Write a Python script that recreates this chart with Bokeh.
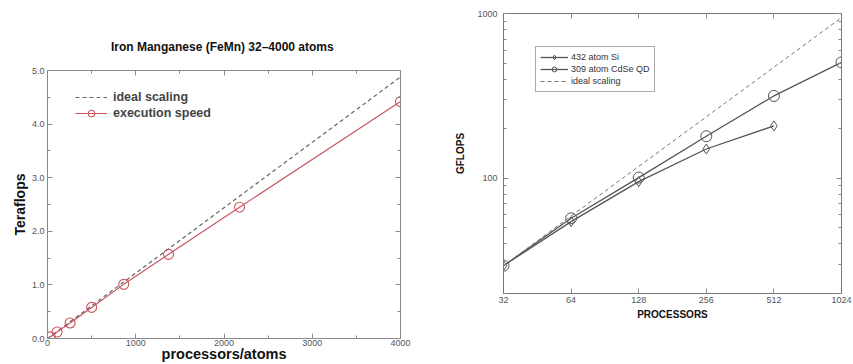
from bokeh.plotting import figure
from bokeh.layouts import row, column
from bokeh.models import (LinearAxis, LogAxis, FixedTicker, NumeralTickFormatter,
                          BasicTickFormatter, Range1d, Legend, LegendItem)
from bokeh.embed import file_html
from bokeh.resources import INLINE

FONT = "Liberation Sans"

# ---------------- Left chart data (FeMn) ----------------
femn_title = "Iron Manganese (FeMn)  32\u20134000 atoms"
femn_atoms = [32, 108, 256, 500, 864, 1372, 2176, 4000]
femn_tflops = [0.03, 0.12, 0.29, 0.58, 1.01, 1.57, 2.45, 4.42]
femn_ideal_atoms = [0, 4000]
femn_ideal_tflops = [0.0, 4.88]
femn_x_ticks = [0, 1000, 2000, 3000, 4000]
femn_x_minor = [500, 1500, 2500, 3500]
femn_y_ticks = [0, 1, 2, 3, 4, 5]
femn_y_minor = [0.5, 1.5, 2.5, 3.5, 4.5]

# ---------------- Right chart data (GFLOPS) ----------------
procs = [32, 64, 128, 256, 512, 1024]
si_procs = [32, 64, 128, 256, 512]
si_gflops = [29.5, 54.6, 95.4, 150.6, 208]
cdse_gflops = [29.5, 57.2, 101, 180, 316, 505]
ideal_procs = [32, 1024]
ideal_gflops = [29.5, 944]
gf_y_ticks = [100, 1000]
gf_y_minor = [20, 30, 40, 50, 60, 70, 80, 90, 200, 300, 400, 500, 600, 700, 800, 900]

AX_COL = "#8a8a8a"
RED = "#c8555f"


def style_axis(ax, ticks, labels=True, size="9px"):
    ax.axis_line_color = AX_COL
    ax.major_tick_line_color = AX_COL
    ax.minor_tick_line_color = AX_COL
    ax.major_tick_in = 5
    ax.major_tick_out = 0
    ax.minor_tick_in = 3
    ax.minor_tick_out = 0
    ax.major_label_text_font = FONT
    ax.major_label_text_color = "#555555"
    ax.major_label_text_font_size = size
    ax.axis_label_text_font = FONT
    ax.axis_label_text_font_style = "bold"
    ax.axis_label_text_color = "#111111"
    if labels:
        ax.major_label_standoff = 3
    else:
        ax.major_label_overrides = {t: "" for t in ticks}
        ax.major_label_standoff = 0


# ---------------- Left figure ----------------
p1 = figure(width=438, height=364, x_range=Range1d(0, 4000), y_range=Range1d(0, 5),
            output_backend="svg", toolbar_location=None, title=None,
            x_axis_location=None, y_axis_location=None,
            min_border_left=47, min_border_right=38, min_border_top=70, min_border_bottom=26)
p1.grid.visible = False
p1.outline_line_color = AX_COL

for side in ["below", "above"]:
    ax = LinearAxis(ticker=FixedTicker(ticks=femn_x_ticks, minor_ticks=femn_x_minor),
                    formatter=BasicTickFormatter())
    style_axis(ax, femn_x_ticks, labels=(side == "below"))
    if side == "below":
        ax.axis_label = "processors/atoms"
        ax.axis_label_text_font_size = "14.5px"
        ax.axis_label_standoff = -3
        ax.major_label_standoff = 1
    else:
        # the chart title sits above the top frame edge
        ax.axis_label = femn_title
        ax.axis_label_text_font_size = "12px"
        ax.axis_label_standoff = 17
    p1.add_layout(ax, side)

for side in ["left", "right"]:
    ax = LinearAxis(ticker=FixedTicker(ticks=femn_y_ticks, minor_ticks=femn_y_minor),
                    formatter=NumeralTickFormatter(format="0.0"))
    style_axis(ax, femn_y_ticks, labels=(side == "left"))
    if side == "left":
        ax.axis_label = "Teraflops"
        ax.axis_label_text_font_size = "14px"
        ax.axis_label_standoff = 1
    p1.add_layout(ax, side)

r_ideal = p1.line(femn_ideal_atoms, femn_ideal_tflops, line_color="#666666",
                  line_width=1.2, line_dash="4 3")
r_exec = p1.line(femn_atoms, femn_tflops, line_color=RED, line_width=1.2)
r_exec_pts = p1.scatter(femn_atoms, femn_tflops, marker="circle", size=10,
                        fill_color=None, line_color=RED, line_width=1.1)

leg1 = Legend(items=[LegendItem(label="ideal scaling", renderers=[r_ideal]),
                     LegendItem(label="execution speed", renderers=[r_exec, r_exec_pts])],
              location=(28, 217), border_line_alpha=0, background_fill_alpha=0,
              label_text_font=FONT, label_text_font_style="bold", label_text_font_size="12.5px",
              glyph_width=32, glyph_height=16, label_height=16, spacing=0, padding=0,
              margin=0, label_standoff=6)
p1.add_layout(leg1, "center")

# ---------------- Right figure ----------------
p2 = figure(width=415, height=364, x_axis_type="log", y_axis_type="log",
            x_range=Range1d(32, 1024), y_range=Range1d(20, 1000),
            output_backend="svg", toolbar_location=None,
            x_axis_location=None, y_axis_location=None,
            min_border_left=65, min_border_right=12, min_border_top=13, min_border_bottom=71)
p2.grid.visible = False
p2.outline_line_color = "#777777"

for side in ["below", "above"]:
    ax = LogAxis(ticker=FixedTicker(ticks=procs, minor_ticks=[]),
                 formatter=BasicTickFormatter())
    style_axis(ax, procs, labels=(side == "below"))
    ax.axis_line_color = "#777777"
    if side == "below":
        ax.axis_label = "PROCESSORS"
        ax.axis_label_text_font_size = "10px"
        ax.axis_label_standoff = 3
    p2.add_layout(ax, side)

for side in ["left", "right"]:
    ax = LogAxis(ticker=FixedTicker(ticks=gf_y_ticks, minor_ticks=gf_y_minor),
                 formatter=BasicTickFormatter())
    style_axis(ax, gf_y_ticks, labels=(side == "left"))
    ax.axis_line_color = "#777777"
    if side == "left":
        ax.axis_label = "GFLOPS"
        ax.axis_label_text_font_size = "10px"
        ax.axis_label_standoff = 8
        ax.major_label_standoff = 6
    p2.add_layout(ax, side)

LINE = "#555555"
r_si = p2.line(si_procs, si_gflops, line_color=LINE, line_width=1.3)
r_si_pts = p2.scatter(si_procs, si_gflops, marker="diamond", size=10,
                      fill_color=None, line_color=LINE, line_width=1.0)
r_cd = p2.line(procs, cdse_gflops, line_color=LINE, line_width=1.3)
r_cd_pts = p2.scatter(procs, cdse_gflops, marker="circle", size=11,
                      fill_color=None, line_color=LINE, line_width=1.0)
r_id = p2.line(ideal_procs, ideal_gflops, line_color="#777777", line_width=1.0,
               line_dash="4 3")

leg2 = Legend(items=[LegendItem(label="432 atom Si", renderers=[r_si, r_si_pts]),
                     LegendItem(label="309 atom CdSe QD", renderers=[r_cd, r_cd_pts]),
                     LegendItem(label="ideal scaling", renderers=[r_id])],
              location=(32, 201), border_line_color="#555555", border_line_width=1.2,
              background_fill_color="white", background_fill_alpha=1.0,
              label_text_font=FONT, label_text_font_size="9px", label_text_color="#333333",
              glyph_width=28, glyph_height=12, label_height=12, spacing=0, padding=4,
              margin=0, label_standoff=3)
p2.add_layout(leg2, "center")

layout = row(column(p1), column(p2))
open("out.html", "w").write(file_html(layout, INLINE))
